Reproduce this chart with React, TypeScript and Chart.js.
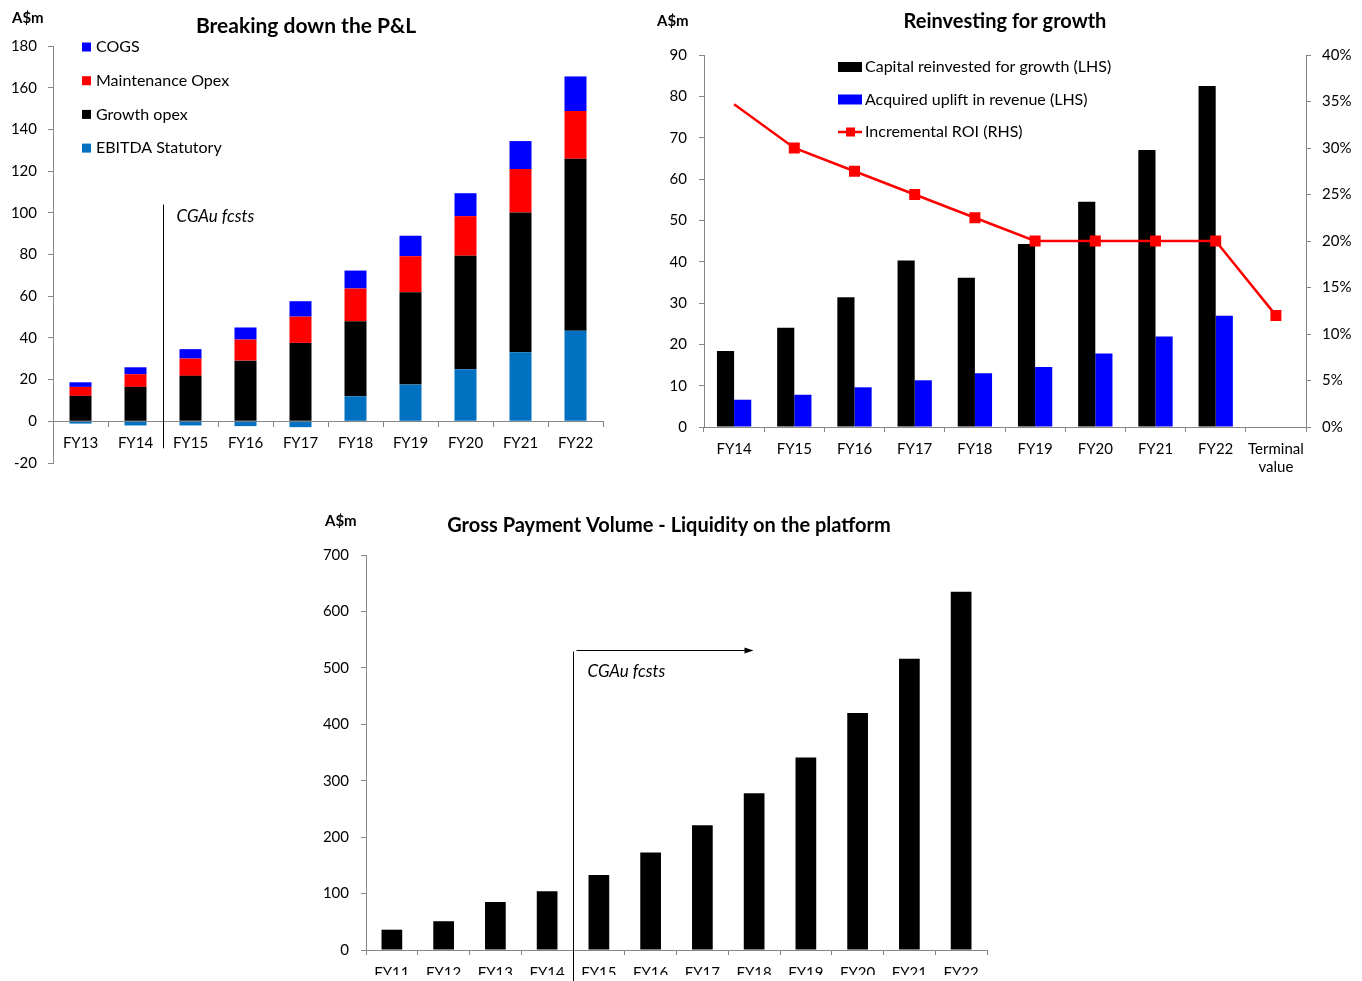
import React, { useEffect, useRef } from 'react';
import { Chart, registerables } from 'chart.js';

Chart.register(...registerables);

const FONT = 'Lato, "Open Sans", sans-serif';
const AXIS = '#868686';

// ---------- Chart 1: Breaking down the P&L ----------
const pnlCategories = ['FY13', 'FY14', 'FY15', 'FY16', 'FY17', 'FY18', 'FY19', 'FY20', 'FY21', 'FY22'];
const ebitdaStatutory = [-1.1, -2.0, -2.0, -2.3, -2.8, 12.0, 17.6, 25.0, 33.1, 43.4];
const growthOpex = [12.2, 16.5, 21.8, 29.1, 37.6, 36.0, 44.3, 54.4, 67.1, 82.5];
const maintenanceOpex = [4.3, 6.1, 8.3, 10.1, 12.6, 15.7, 17.3, 19.0, 20.8, 22.9];
const cogs = [2.2, 3.3, 4.5, 5.8, 7.4, 8.6, 9.8, 11.0, 13.4, 16.6];
const pnlAxis = { min: -20, max: 180, step: 20 };

// ---------- Chart 2: Reinvesting for growth ----------
const reinvCategories: (string | string[])[] = ['FY14', 'FY15', 'FY16', 'FY17', 'FY18', 'FY19', 'FY20', 'FY21', 'FY22', ['Terminal', 'value']];
const capitalReinvested = [18.4, 24.0, 31.4, 40.3, 36.1, 44.3, 54.5, 67.0, 82.5, null];
const acquiredUplift = [6.6, 7.8, 9.6, 11.3, 13.0, 14.5, 17.8, 21.9, 26.9, null];
const incrementalRoi = [0.347, 0.30, 0.275, 0.25, 0.225, 0.20, 0.20, 0.20, 0.20, 0.12];
const reinvLeftAxis = { min: 0, max: 90, step: 10 };
const reinvRightAxis = { min: 0, max: 0.4, step: 0.05 };

// ---------- Chart 3: Gross Payment Volume ----------
const gpvCategories = ['FY11', 'FY12', 'FY13', 'FY14', 'FY15', 'FY16', 'FY17', 'FY18', 'FY19', 'FY20', 'FY21', 'FY22'];
const gpvValues = [36, 51, 85, 104, 133, 173, 221, 278, 341, 420, 516, 635];
const gpvAxis = { min: 0, max: 700, step: 100 };

const tickFont = { family: FONT, size: 15 };
const TITLE_FONT = `bold 20px ${FONT}`;
const LEGEND_FONT = `16px ${FONT}`;
const NOTE_FONT = `italic 17px ${FONT}`;

function ChartBox({ left, top, width, height, makeConfig }: any) {
  const ref = useRef<HTMLCanvasElement>(null);
  useEffect(() => {
    if (!ref.current) return;
    const chart = new Chart(ref.current, makeConfig());
    return () => chart.destroy();
  }, []);
  return (
    <div style={{ position: 'absolute', left, top, width, height }}>
      <canvas ref={ref} width={width} height={height} style={{ width, height, display: 'block' }} />
    </div>
  );
}

function drawText(ctx: CanvasRenderingContext2D, text: string, x: number, y: number, font: string, align: CanvasTextAlign = 'left') {
  ctx.save();
  ctx.font = font;
  ctx.fillStyle = '#000';
  ctx.textAlign = align;
  ctx.textBaseline = 'middle';
  ctx.fillText(text, x, y);
  ctx.restore();
}

function pnlConfig() {
  const annot = {
    id: 'pnlAnnot',
    afterDraw(chart: any) {
      const ctx = chart.ctx;
      const x = chart.scales.x;
      const y = chart.scales.y;
      drawText(ctx, 'A$m', 12, 18, `bold 15px ${FONT}`);
      drawText(ctx, 'Breaking down the P&L', 306, 26, `bold 21px ${FONT}`, 'center');
      // legend (top of stack first)
      const items = [...chart.data.datasets].reverse();
      items.forEach((ds: any, i: number) => {
        const cy = 47 + i * 33.7;
        ctx.fillStyle = ds.backgroundColor;
        ctx.fillRect(82, cy - 4.5, 9, 9);
        drawText(ctx, ds.label, 96, cy, LEGEND_FONT);
      });
      // forecast divider
      const lx = Math.round((x.getPixelForValue(1) + x.getPixelForValue(2)) / 2) + 0.5;
      ctx.save();
      ctx.strokeStyle = '#000';
      ctx.lineWidth = 1;
      ctx.beginPath();
      ctx.moveTo(lx, y.getPixelForValue(104));
      ctx.lineTo(lx, y.getPixelForValue(0) + 27);
      ctx.stroke();
      ctx.restore();
      drawText(ctx, 'CGAu fcsts', lx + 13, 217, NOTE_FONT);
    },
  };
  return {
    type: 'bar',
    data: {
      labels: pnlCategories,
      datasets: [
        { label: 'EBITDA Statutory', data: ebitdaStatutory, backgroundColor: '#0070C0' },
        { label: 'Growth opex', data: growthOpex, backgroundColor: '#000000' },
        { label: 'Maintenance Opex', data: maintenanceOpex, backgroundColor: '#FF0000' },
        { label: 'COGS', data: cogs, backgroundColor: '#0000FF' },
      ],
    },
    options: {
      animation: false,
      responsive: false,
      layout: { padding: { top: 46, bottom: 15, left: 0, right: 17 } },
      datasets: { bar: { barPercentage: 0.4, categoryPercentage: 1 } },
      plugins: { legend: { display: false }, tooltip: { enabled: false } },
      scales: {
        x: {
          stacked: true,
          position: { y: 0 },
          grid: { drawOnChartArea: false, drawTicks: true, tickLength: 5, color: AXIS, offset: true },
          border: { color: AXIS },
          ticks: { font: tickFont, color: '#000', padding: 8, maxRotation: 0, autoSkip: false },
        },
        y: {
          stacked: true,
          min: pnlAxis.min,
          max: pnlAxis.max,
          ticks: { stepSize: pnlAxis.step, font: tickFont, color: '#000', padding: 11 },
          grid: { drawOnChartArea: false, drawTicks: true, tickLength: 5, color: AXIS },
          border: { color: AXIS },
          afterFit(s: any) { s.width = 53; },
        },
      },
    },
    plugins: [annot],
  };
}

function reinvConfig() {
  const annot = {
    id: 'reinvAnnot',
    afterDraw(chart: any) {
      const ctx = chart.ctx;
      drawText(ctx, 'A$m', 17, 21, `bold 15px ${FONT}`);
      drawText(ctx, 'Reinvesting for growth', 365, 22, TITLE_FONT, 'center');
      const ds = chart.data.datasets;
      const legendOrder = [1, 2, 0];
      legendOrder.forEach((idx, i) => {
        const d = ds[idx];
        const cy = 67 + i * 32.5;
        if (d.type === 'line') {
          ctx.save();
          ctx.strokeStyle = d.borderColor;
          ctx.lineWidth = 2.5;
          ctx.beginPath();
          ctx.moveTo(198, cy);
          ctx.lineTo(222, cy);
          ctx.stroke();
          ctx.fillStyle = d.borderColor;
          ctx.fillRect(206, cy - 4.5, 9, 9);
          ctx.restore();
        } else {
          ctx.fillStyle = d.backgroundColor;
          ctx.fillRect(198, cy - 5, 24, 10);
        }
        drawText(ctx, d.label, 225, cy, LEGEND_FONT);
      });
    },
  };
  return {
    type: 'bar',
    data: {
      labels: reinvCategories,
      datasets: [
        {
          type: 'line',
          label: 'Incremental ROI (RHS)',
          data: incrementalRoi,
          yAxisID: 'y1',
          borderColor: '#FF0000',
          backgroundColor: '#FF0000',
          borderWidth: 2.5,
          pointStyle: 'rect',
          pointRadius: incrementalRoi.map((_, i) => (i === 0 ? 0 : 6)),
          pointBackgroundColor: '#FF0000',
          pointBorderColor: '#FF0000',
          order: 0,
        },
        { label: 'Capital reinvested for growth (LHS)', data: capitalReinvested, backgroundColor: '#000000', yAxisID: 'y', order: 1 },
        { label: 'Acquired uplift in revenue (LHS)', data: acquiredUplift, backgroundColor: '#0000FF', yAxisID: 'y', order: 1 },
      ],
    },
    options: {
      animation: false,
      responsive: false,
      layout: { padding: { top: 55, bottom: 8, left: 0, right: 0 } },
      datasets: { bar: { barPercentage: 1, categoryPercentage: 0.57 } },
      plugins: { legend: { display: false }, tooltip: { enabled: false } },
      scales: {
        x: {
          grid: { drawOnChartArea: false, drawTicks: true, tickLength: 5, color: AXIS, offset: true },
          border: { color: AXIS },
          ticks: { font: tickFont, color: '#000', padding: 8, maxRotation: 0, autoSkip: false },
          afterFit(s: any) { s.height = 45; },
        },
        y: {
          position: 'left',
          min: reinvLeftAxis.min,
          max: reinvLeftAxis.max,
          ticks: { stepSize: reinvLeftAxis.step, font: tickFont, color: '#000', padding: 12 },
          grid: { drawOnChartArea: false, drawTicks: true, tickLength: 5, color: AXIS },
          border: { color: AXIS },
          afterFit(s: any) { s.width = 64; },
        },
        y1: {
          position: 'right',
          min: reinvRightAxis.min,
          max: reinvRightAxis.max,
          ticks: {
            stepSize: reinvRightAxis.step,
            font: tickFont,
            color: '#000',
            padding: 11,
            callback: (v: number) => `${Math.round(v * 100)}%`,
          },
          grid: { drawOnChartArea: false, drawTicks: true, tickLength: 5, color: AXIS },
          border: { color: AXIS },
          afterFit(s: any) { s.width = 56; },
        },
      },
    },
    plugins: [annot],
  };
}

function gpvConfig() {
  const annot = {
    id: 'gpvAnnot',
    afterDraw(chart: any) {
      const ctx = chart.ctx;
      const x = chart.scales.x;
      const y = chart.scales.y;
      drawText(ctx, 'A$m', 25, 21, `bold 15px ${FONT}`);
      drawText(ctx, 'Gross Payment Volume - Liquidity on the platform', 369, 26, TITLE_FONT, 'center');
      const lx = Math.round((x.getPixelForValue(3) + x.getPixelForValue(4)) / 2) + 0.5;
      const ly = Math.round(y.getPixelForValue(530)) + 0.5;
      ctx.save();
      ctx.strokeStyle = '#000';
      ctx.lineWidth = 1;
      ctx.beginPath();
      ctx.moveTo(lx, ly);
      ctx.lineTo(lx, chart.height);
      ctx.stroke();
      ctx.beginPath();
      ctx.moveTo(lx + 3, ly - 1);
      ctx.lineTo(lx + 172, ly - 1);
      ctx.stroke();
      ctx.fillStyle = '#000';
      ctx.beginPath();
      ctx.moveTo(lx + 180, ly - 1);
      ctx.lineTo(lx + 171, ly - 4);
      ctx.lineTo(lx + 171, ly + 2);
      ctx.closePath();
      ctx.fill();
      ctx.restore();
      drawText(ctx, 'CGAu fcsts', lx + 14, 172, NOTE_FONT);
    },
  };
  return {
    type: 'bar',
    data: {
      labels: gpvCategories,
      datasets: [{ label: 'Gross Payment Volume', data: gpvValues, backgroundColor: '#000000' }],
    },
    options: {
      animation: false,
      responsive: false,
      layout: { padding: { top: 55, bottom: 6, left: 0, right: 13 } },
      datasets: { bar: { barPercentage: 0.4, categoryPercentage: 1 } },
      plugins: { legend: { display: false }, tooltip: { enabled: false } },
      scales: {
        x: {
          grid: { drawOnChartArea: false, drawTicks: true, tickLength: 5, color: AXIS, offset: true },
          border: { color: AXIS },
          ticks: { font: tickFont, color: '#000', padding: 9, maxRotation: 0, autoSkip: false },
          afterFit(s: any) { s.height = 25; },
        },
        y: {
          min: gpvAxis.min,
          max: gpvAxis.max,
          ticks: { stepSize: gpvAxis.step, font: tickFont, color: '#000', padding: 12 },
          grid: { drawOnChartArea: false, drawTicks: true, tickLength: 5, color: AXIS },
          border: { color: AXIS },
          afterFit(s: any) { s.width = 66; },
        },
      },
    },
    plugins: [annot],
  };
}

export default function App() {
  return (
    <div style={{ position: 'absolute', left: 0, top: 0, width: 1362, height: 981, background: '#fff', overflow: 'hidden' }}>
      <ChartBox left={0} top={0} width={620} height={483} makeConfig={pnlConfig} />
      <ChartBox left={640} top={0} width={722} height={480} makeConfig={reinvConfig} />
      <ChartBox left={300} top={500} width={700} height={481} makeConfig={gpvConfig} />
    </div>
  );
}
